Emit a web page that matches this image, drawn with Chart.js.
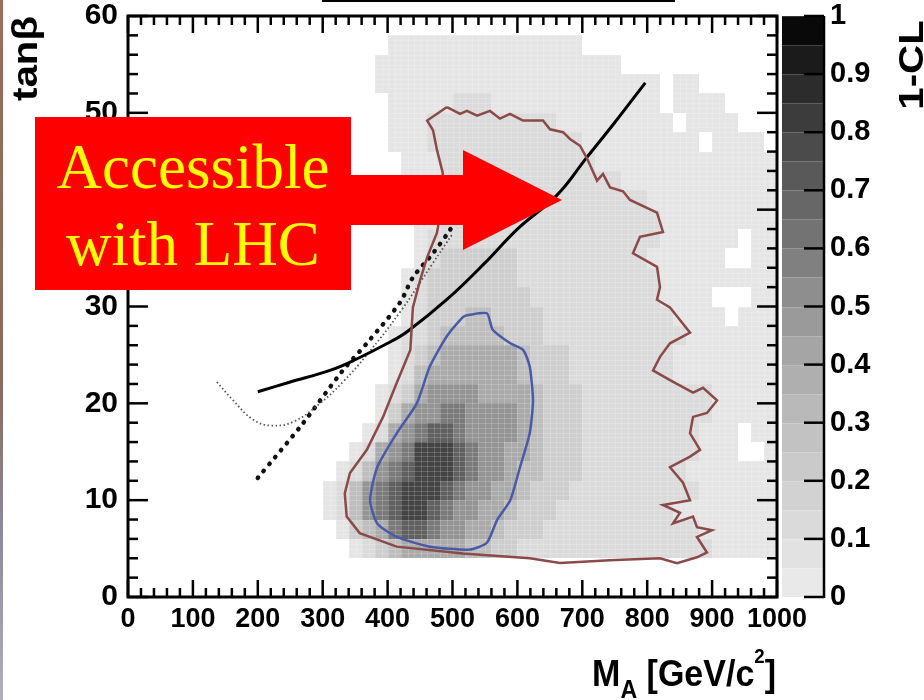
<!DOCTYPE html>
<html>
<head>
<meta charset="utf-8">
<script src="https://cdn.jsdelivr.net/npm/chart.js@4.4.1/dist/chart.umd.min.js"></script>
<style>
  html, body { margin: 0; padding: 0; background: #ffffff; }
  #wrap { position: relative; width: 924px; height: 700px; overflow: hidden; background: #fff; }
  #c { position: absolute; left: 0; top: 0; }
  #edge { position: absolute; left: 0; top: 0; width: 3px; height: 700px;
          background: linear-gradient(#a06a58, #8c6a5e 55%, #8a8a98 75%, #b0b0b8); }
  #topline { position: absolute; left: 322px; top: 0; width: 353px; height: 2px; background: #000; }
  #arrow { position: absolute; left: 0; top: 0; }
  #box { position: absolute; left: 35px; top: 117px; width: 316px; height: 173px; background: #ff0000; }
  .txt { position: absolute; left: 35px; width: 316px; text-align: center; color: #ffff00;
         font-family: "Liberation Serif", "Times New Roman", serif; font-size: 63px; line-height: 70px;
         white-space: nowrap; }
</style>
</head>
<body>
<div id="wrap">
  <canvas id="c" width="924" height="700"></canvas>
  <div id="edge"></div>
  <div id="topline"></div>
  <svg id="arrow" width="924" height="700">
    <polygon points="345,175 463,175 463,150 562,200 463,250 463,225 345,225" fill="#ff0000"/>
  </svg>
  <div id="box"></div>
  <div class="txt" style="top:132px">Accessible</div>
  <div class="txt" style="top:209px">with LHC</div>
</div>
<script>
// ---------------- DATA ----------------
// 2D histogram of 1-CL: rows from tanβ 60 (top) down to 0, 2 units per row;
// columns from M_A = 0 to 1000 GeV, 20 GeV per column ('|' separates groups of 10 columns).
// '.' = empty bin, digit = index into levelValues.
const MASS_BIN = 20;
const TANB_BIN = 2;
const TANB_TOP = 60;
const levelValues = [0.05, 0.12, 0.2, 0.3, 0.4, 0.5, 0.6, 0.7, 0.8, 0.9];
const heatRows = [
  "..........|..........|..........|..........|..........", // 58-60
  "..........|..........|0000000000|00000.....|..........", // 56-58
  "..........|.........0|0000000000|00000000..|..........", // 54-56
  "..........|.........0|0000000000|0000000000|0.00......", // 52-54
  "..........|..........|0000011100|0000000000|0.0000....", // 50-52
  "..........|..........|0001111111|1110000000|00.0000...", // 48-50
  "..........|..........|0001111111|1111100000|0000.0000.", // 46-48
  "..........|..........|.000111111|1111110000|0000000000", // 44-46
  "..........|..........|.000111111|1111111100|0000000000", // 42-44
  "..........|..........|.000111111|1111111111|0000000000", // 40-42
  "..........|..........|..00111111|1111111111|1000000000", // 38-40
  "..........|..........|..01111111|1111111111|1000000.00", // 36-38
  "..........|..........|..01222222|1111111111|000000..00", // 34-36
  "..........|..........|.012222222|1111111111|1000000000", // 32-34
  "..........|..........|.012222222|2111111111|10000...00", // 30-32
  "..........|..........|.012223322|2211111111|110000.000", // 28-30
  "..........|..........|0112333332|2211111111|1110000000", // 26-28
  "..........|..........|0123444444|3222111111|1100000000", // 24-26
  "..........|..........|0134444444|3222111111|1100000000", // 22-24
  "..........|.........0|1245555444|4322211111|1111100000", // 20-22
  "..........|.........0|2455665555|4322211111|1111100000", // 18-20
  "..........|........01|4567765555|4322211111|1111000.00", // 16-18
  "..........|.......014|5688876554|4322211111|1111000..0", // 14-16
  "..........|......0135|6788876554|3322211111|1110000000", // 12-14
  "..........|.....01356|7888765544|3222111111|1111000000", // 10-12
  "..........|.....01356|7887655443|2221111111|1100000000", // 8-10
  "..........|......0234|6776554432|2211111111|1111000000", // 6-8
  "..........|.......012|3444443322|1111111111|1111100000", // 4-6
  "..........|..........|..........|..........|..........", // 2-4
  "..........|..........|..........|..........|.........."  // 0-2
];

// Outer (brown) contour
const outerM = [491.5,511.6,522.3,537.8,557.8,573.2,588.6,608.6,639.4,650.2,670.3,681.0,696.5,707.2,722.7,731.9,742.7,762.7,773.5,
  815.1,824.3,788.9,778.1,815.1,819.7,815.1,835.1,850.5,866.0,835.1,819.7,809.0,835.1,870.6,886.0,907.6,892.1,870.6,866.0,881.4,
  866.0,835.1,855.2,866.0,824.3,850.5,839.8,870.6,876.7,899.8,876.7,892.1,876.7,845.9,819.7,742.7,665.6,619,516,414,357,337,334,
  342,368,393,414,435,439,450,461,476,485,485,476,470,461,491.5];
const outerTanb = [50.6,49.9,50.2,49.7,50.2,49.4,49.9,49.2,49.2,48.3,48.0,47.3,46.6,45.3,43.0,43.7,42.3,41.9,41.0,
  39.7,37.7,37.2,35.5,34.1,32.0,30.7,29.9,28.6,27.3,26.2,24.8,23.4,22.4,21.1,21.6,20.3,19.0,18.6,16.9,15.2,
  14.5,13.4,11.8,10.0,9.5,8.7,7.6,8.3,7.2,6.9,6.2,4.6,4.1,3.5,4.0,3.8,3.5,4.0,4.5,5.2,6.6,8.3,10.7,
  12.8,15.2,18.6,22.1,25.5,29.9,32.7,35.1,37.6,41.0,43.8,46.2,48.2,49.2,50.6];

// Inner (blue) contour
const innerM = [522,553,562,589,609,619,624,619,604,589,569,553,527,465,414,384,373,384,414,445,465,491,516,522];
const innerTanb = [29.1,29.3,27.6,26.2,25.5,23.8,20.3,16.9,13.4,10.0,8.0,5.6,4.9,5.2,6.2,7.6,10.0,13.4,16.9,20.0,23.8,26.9,28.9,29.1];

// Solid black curve
const solidM = [200,250,311,350,400,430,491,550,600,661,707,750,797];
const solidTanb = [21.2,22.2,23.4,24.5,26.2,27.4,30.7,34.5,38.0,41.5,45.4,49.0,53.1];

// Fine dotted curve
const fineM = [137,162,193,221,255,296,331,368,420,470,500];
const fineTanb = [22.2,20.3,18.3,17.7,18.1,20.0,22.2,25.0,29.5,34.5,37.5];

// Heavy dotted curve
const heavyM = [200,268,331,368,419,439,470,496,505];
const heavyTanb = [12.3,17.8,23.4,26.2,30.4,33.0,35.5,37.9,39.0];

const xTickLabels = ["0","100","200","300","400","500","600","700","800","900","1000"];
const yTickLabels = ["0","10","20","30","40","50","60"];
const cbTickLabels = ["0","0.1","0.2","0.3","0.4","0.5","0.6","0.7","0.8","0.9","1"];

// ---------------- STYLE HELPERS ----------------
const GRAY_STOPS = [236,222,206,190,170,148,122,96,68,36,0];
function grayFor(v) {
  const f = Math.max(0, Math.min(1, v)) * 10;
  const i = Math.min(9, Math.floor(f));
  const t = f - i;
  const g = Math.round(GRAY_STOPS[i] + (GRAY_STOPS[i + 1] - GRAY_STOPS[i]) * t);
  return `rgb(${g},${g},${g})`;
}
const pts = (xs, ys) => xs.map((x, i) => ({ x, y: ys[i] }));
const gridRows = heatRows.map(r => r.replace(/\|/g, ''));

const heatmapPlugin = {
  id: 'heatmap',
  beforeDatasetsDraw(chart) {
    const { ctx, chartArea: a, scales: { x, y } } = chart;
    ctx.save();
    ctx.beginPath(); ctx.rect(a.left, a.top, a.width, a.height); ctx.clip();
    gridRows.forEach((row, r) => {
      const tHi = TANB_TOP - r * TANB_BIN, tLo = tHi - TANB_BIN;
      const y0 = Math.round(y.getPixelForValue(tHi)), y1 = Math.round(y.getPixelForValue(tLo));
      for (let c = 0; c < row.length; c++) {
        const ch = row[c];
        if (ch === '.') continue;
        const v = levelValues[+ch];
        const x0 = Math.round(x.getPixelForValue(c * MASS_BIN));
        const x1 = Math.round(x.getPixelForValue((c + 1) * MASS_BIN));
        ctx.fillStyle = grayFor(v);
        ctx.fillRect(x0, y0, x1 - x0, y1 - y0);
        // faint fabric-like bin texture, as in the printed histogram
        ctx.fillStyle = 'rgba(255,255,255,0.18)';
        const xm = Math.round((x0 + x1) / 2), ym = Math.round((y0 + y1) / 2);
        ctx.fillRect(x0, y0, 1, y1 - y0);
        ctx.fillRect(xm, y0, 1, y1 - y0);
        const q = (y1 - y0) / 4;
        for (let k = 0; k < 4; k++) ctx.fillRect(x0, Math.round(y0 + k * q), x1 - x0, 1);
      }
    });
    ctx.restore();
  }
};

function seg(ctx, x0, y0, x1, y1) { ctx.beginPath(); ctx.moveTo(x0, y0); ctx.lineTo(x1, y1); ctx.stroke(); }

const framePlugin = {
  id: 'frame',
  afterDraw(chart) {
    const { ctx, chartArea: a, scales: { x, y, cb } } = chart;
    ctx.save();
    ctx.strokeStyle = '#000';
    ctx.lineWidth = 2.5;
    for (let m = 0; m <= 1000; m += 20) {
      const px = x.getPixelForValue(m);
      const L = (m % 100 === 0) ? 17 : 9;
      seg(ctx, px, a.bottom, px, a.bottom - L);
      seg(ctx, px, a.top, px, a.top + L);
    }
    for (let t = 0; t <= 60; t += 2) {
      const py = y.getPixelForValue(t);
      const L = (t % 10 === 0) ? 20 : 10;
      seg(ctx, a.left, py, a.left + L, py);
      seg(ctx, a.right, py, a.right - L, py);
    }
    ctx.lineWidth = 3;
    ctx.strokeRect(a.left, a.top, a.right - a.left, a.bottom - a.top);

    // colour bar
    const cx0 = cb.left + 5, cx1 = cb.left + 47;
    for (let k = 0; k < 20; k++) {
      const lo = k * 0.05, hi = lo + 0.05;
      const yTop = Math.round(cb.getPixelForValue(hi)), yBot = Math.round(cb.getPixelForValue(lo));
      ctx.fillStyle = grayFor(lo + 0.025);
      ctx.fillRect(cx0, yTop, cx1 - cx0, yBot - yTop);
      ctx.fillStyle = 'rgba(255,255,255,0.18)';
      ctx.fillRect(cx0, yTop, cx1 - cx0, 1);
    }
    ctx.lineWidth = 2.5;
    seg(ctx, cx1, cb.getPixelForValue(1), cx1, cb.getPixelForValue(0) + 1);
    for (let k = 0; k <= 10; k++) {
      const py = cb.getPixelForValue(k / 10);
      seg(ctx, cx1, py, cx1 - 20, py);
    }

    // axis titles
    ctx.fillStyle = '#000';
    ctx.textBaseline = 'alphabetic';
    ctx.save();
    ctx.font = 'bold 35px "Liberation Sans", Arial, sans-serif';
    ctx.translate(37, 58.5);
    ctx.rotate(-Math.PI / 2);
    ctx.scale(1.15, 1);
    ctx.textAlign = 'center';
    ctx.fillText('tanβ', 0, 0);
    ctx.restore();
    ctx.save();
    ctx.font = 'bold 35px "Liberation Sans", Arial, sans-serif';
    ctx.translate(923, 65);
    ctx.rotate(-Math.PI / 2);
    ctx.scale(1.15, 1);
    ctx.textAlign = 'center';
    ctx.fillText('1-CL', 0, 0);
    ctx.restore();
    ctx.save();
    const F = 34;
    const parts = [
      { t: 'M', s: 1, dy: 0 },
      { t: 'A', s: 0.68, dy: 0.33 },
      { t: ' [GeV/c', s: 1, dy: 0 },
      { t: '2', s: 0.55, dy: -0.62 },
      { t: ']', s: 1, dy: 0 }
    ];
    let total = 0;
    parts.forEach(p => { ctx.font = `bold ${F * p.s}px "Liberation Sans", Arial, sans-serif`; p.w = ctx.measureText(p.t).width; total += p.w; });
    ctx.translate(776 - total, 686);
    ctx.scale(1, 1.1);
    ctx.textAlign = 'left';
    let xx = 0;
    parts.forEach(p => {
      ctx.font = `bold ${F * p.s}px "Liberation Sans", Arial, sans-serif`;
      ctx.fillText(p.t, xx, p.dy * F);
      xx += p.w;
    });
    ctx.restore();
    ctx.restore();
  }
};

const tickFont = (size) => ({ family: '"Liberation Sans", Arial, sans-serif', size, weight: 'bold' });
const noVPad = (w) => (s) => { s.width = w; s.paddingTop = 0; s.paddingBottom = 0; };

new Chart(document.getElementById('c'), {
  type: 'scatter',
  data: {
    datasets: [
      { label: 'outer', data: pts(outerM, outerTanb), showLine: true, borderColor: '#8a4a4a', borderWidth: 2.5,
        pointRadius: 0, tension: 0, fill: false },
      { label: 'inner', data: pts(innerM, innerTanb), showLine: true, borderColor: '#4a5aa6', borderWidth: 2.5,
        pointRadius: 0, tension: 0.2, fill: false },
      { label: 'solid', data: pts(solidM, solidTanb), showLine: true, borderColor: '#000', borderWidth: 3,
        pointRadius: 0, tension: 0.4, fill: false },
      { label: 'fine dotted', data: pts(fineM, fineTanb), showLine: true, borderColor: '#555', borderWidth: 1.8,
        borderDash: [1.5, 2.5], pointRadius: 0, tension: 0.4, fill: false },
      { label: 'heavy dotted', data: pts(heavyM, heavyTanb), showLine: true, borderColor: '#111', borderWidth: 4.5,
        borderDash: [0.5, 8.5], borderCapStyle: 'round', pointRadius: 0, tension: 0.3, fill: false }
    ]
  },
  options: {
    responsive: false,
    animation: false,
    devicePixelRatio: 1,
    layout: { padding: { top: 16, left: 0, right: 0, bottom: 0 } },
    plugins: { legend: { display: false }, tooltip: { enabled: false }, title: { display: false } },
    scales: {
      x: {
        type: 'linear', position: 'bottom', min: 0, max: 1000,
        grid: { display: false, drawTicks: false }, border: { display: false },
        ticks: { stepSize: 100, autoSkip: false, maxRotation: 0, minRotation: 0, padding: 6, color: '#000',
                 font: tickFont(27), callback: (v, i) => xTickLabels[i] },
        afterFit: (s) => { s.height = 103; s.paddingLeft = 0; s.paddingRight = 0; }
      },
      y: {
        type: 'linear', position: 'left', min: 0, max: 60,
        grid: { display: false, drawTicks: false }, border: { display: false },
        ticks: { stepSize: 10, autoSkip: false, padding: 10, color: '#000',
                 font: tickFont(30), callback: (v, i) => yTickLabels[i] },
        afterFit: noVPad(128)
      },
      cb: {
        type: 'linear', position: 'right', min: 0, max: 1,
        grid: { display: false, drawTicks: false }, border: { display: false },
        ticks: { stepSize: 0.1, autoSkip: false, padding: 53, color: '#000',
                 font: tickFont(29), callback: (v, i) => cbTickLabels[i] },
        afterFit: noVPad(147)
      }
    }
  },
  plugins: [heatmapPlugin, framePlugin]
});
</script>
</body>
</html>
